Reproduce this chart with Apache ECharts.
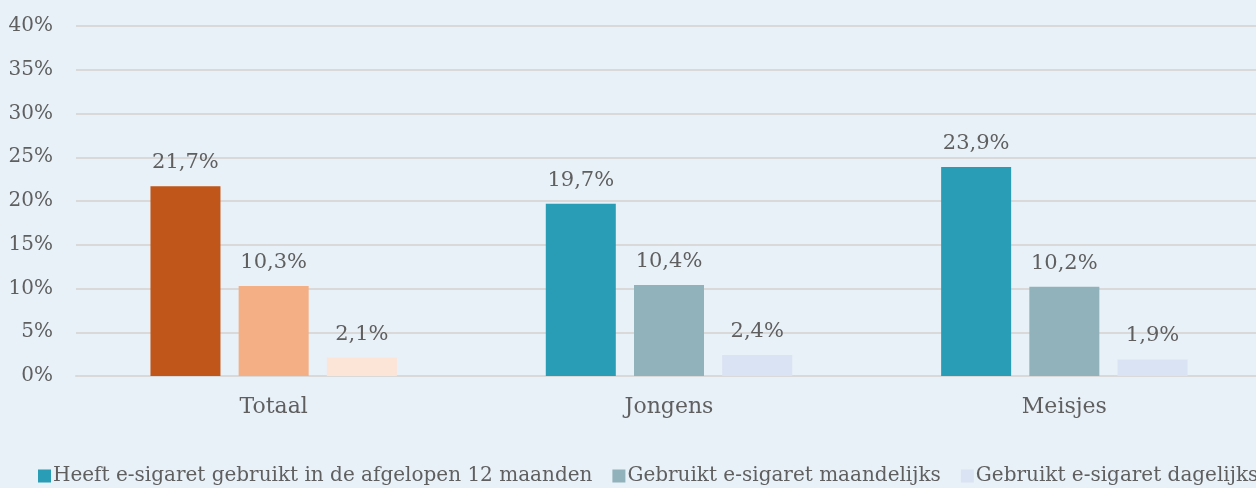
<!DOCTYPE html>
<html><head><meta charset="utf-8">
<style>html,body{margin:0;padding:0;background:#e8f0f8;overflow:hidden;width:1256px;height:488px;}#c{width:1262px;height:488px;}</style>
<script src="https://cdn.jsdelivr.net/npm/echarts@6/dist/echarts.min.js"></script>
</head><body><div id="c"></div>
<script>
const categories = ['Totaal', 'Jongens', 'Meisjes'];
const seriesNames = ['Heeft e-sigaret gebruikt in de afgelopen 12 maanden', 'Gebruikt e-sigaret maandelijks', 'Gebruikt e-sigaret dagelijks'];
const jaarlijks = [21.7, 19.7, 23.9];
const maandelijks = [10.3, 10.4, 10.2];
const dagelijks = [2.1, 2.4, 1.9];
const seriesColors = ['#289db5', '#92b2bb', '#dae3f3'];
const totaalColors = ['#c1561a', '#f4b084', '#fce4d6'];

const FONT = 'DejaVu Serif';
const TXT = '#5f5f5f';
const values = [jaarlijks, maandelijks, dagelijks];
const chart = echarts.init(document.getElementById('c'));
chart.setOption({
  backgroundColor: '#e8f0f8',
  animation: false,
  textStyle: { fontFamily: FONT },
  grid: { left: 76, right: 0, top: 26, height: 350, containLabel: false },
  legend: {
    left: 33, bottom: -3, width: 3000,
    itemWidth: 13, itemHeight: 13, itemGap: 20,
    icon: 'rect',
    textStyle: { fontFamily: FONT, fontSize: 20, color: TXT, padding: [0,0,0,-3] },
    data: seriesNames
  },
  xAxis: {
    type: 'category', data: categories,
    axisLine: { lineStyle: { color: '#d9d9d9', width: 2 } },
    axisTick: { show: false },
    axisLabel: { fontFamily: FONT, fontSize: 22, color: TXT, margin: 20 }
  },
  yAxis: {
    type: 'value', min: 0, max: 40, interval: 5,
    axisLine: { show: false }, axisTick: { show: false },
    splitLine: { lineStyle: { color: '#d9d9d9', width: 2 } },
    axisLabel: { fontFamily: FONT, fontSize: 20, color: TXT, margin: 23, formatter: v => v + '%' }
  },
  series: seriesNames.map((name, si) => ({
    name, type: 'bar',
    barWidth: 70, barGap: '26%',
    itemStyle: { color: seriesColors[si] },
    label: {
      show: true, position: 'top', distance: 13,
      fontFamily: FONT, fontSize: 21, color: TXT,
      formatter: p => p.value.toFixed(1).replace('.', ',') + '%'
    },
    data: values[si].map((v, ci) => ci === 0 ? { value: v, itemStyle: { color: totaalColors[si] } } : v)
  }))
});
</script></body></html>
